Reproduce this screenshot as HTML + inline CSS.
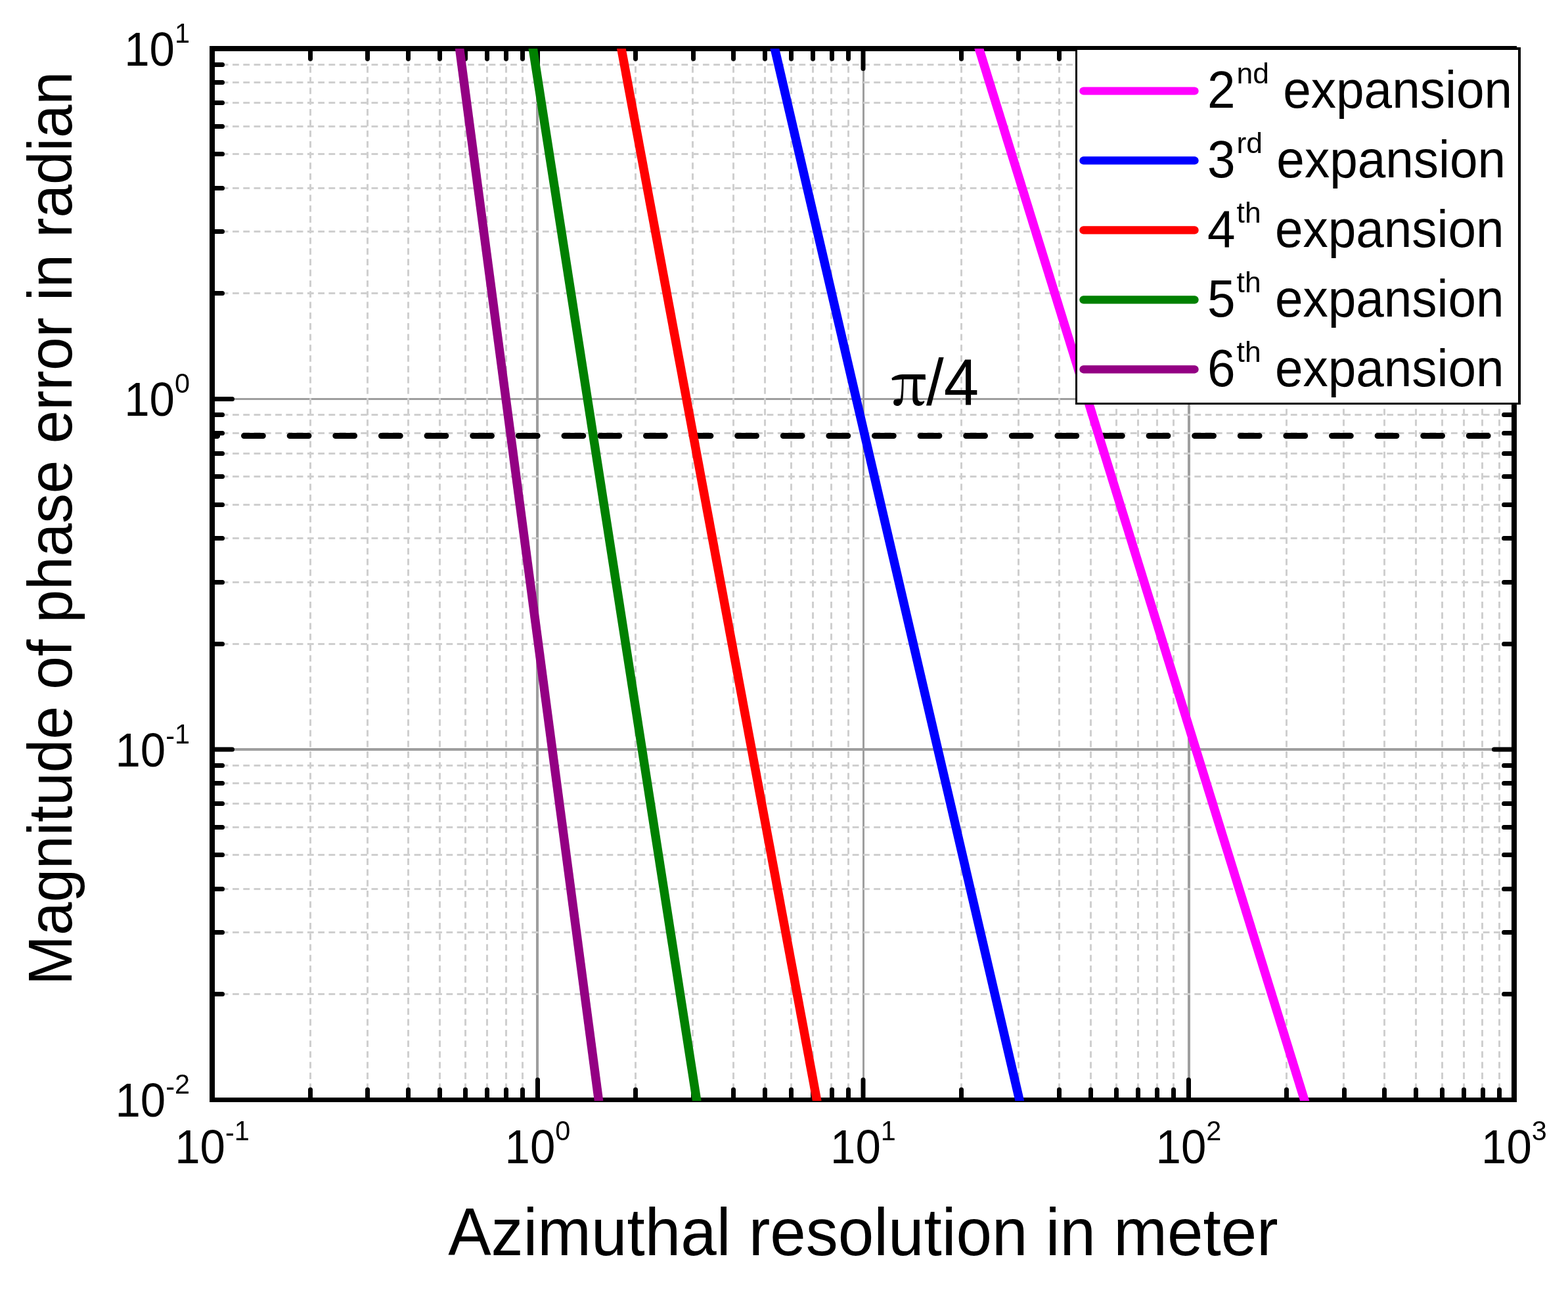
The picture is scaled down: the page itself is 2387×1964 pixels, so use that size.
<!DOCTYPE html><html><head><meta charset="utf-8"><style>html,body{margin:0;padding:0;background:#fff;overflow:hidden;width:2387px;height:1964px;}svg{display:block}</style></head><body>
<svg width="2387" height="1964" viewBox="0 0 2387 1964">
<style>text{font-family:"Liberation Sans",Arial,sans-serif;fill:#000}</style>
<rect width="2387" height="1964" fill="#fff"/>
<defs><clipPath id="pc"><rect x="323" y="74" width="1982" height="1602"/></clipPath></defs>
<rect x="816" y="74" width="4" height="1600.5" fill="#9e9e9e"/>
<rect x="1313" y="74" width="3" height="1600.5" fill="#9e9e9e"/>
<rect x="1808" y="74" width="4" height="1600.5" fill="#9e9e9e"/>
<rect x="323" y="606" width="1982" height="3" fill="#9e9e9e"/>
<rect x="323" y="1139" width="1982" height="4" fill="#9e9e9e"/>
<path d="M472.5 1675.5V74M559.5 1675.5V74M621.5 1675.5V74M669.5 1675.5V74M708.5 1675.5V74M741.5 1675.5V74M770.5 1675.5V74M795.5 1675.5V74M967.5 1675.5V74M1054.5 1675.5V74M1116.5 1675.5V74M1164.5 1675.5V74M1204.5 1675.5V74M1237.5 1675.5V74M1265.5 1675.5V74M1291.5 1675.5V74M1463.5 1675.5V74M1550.5 1675.5V74M1612.5 1675.5V74M1660.5 1675.5V74M1699.5 1675.5V74M1732.5 1675.5V74M1761.5 1675.5V74M1786.5 1675.5V74M1958.5 1675.5V74M2045.5 1675.5V74M2107.5 1675.5V74M2155.5 1675.5V74M2195.5 1675.5V74M2228.5 1675.5V74M2256.5 1675.5V74M2282.5 1675.5V74" stroke="#cfcfcf" stroke-width="3" stroke-dasharray="9.8 6.5" fill="none"/>
<path d="M321.46 1513.5H2305M321.46 1419.5H2305M321.46 1353.5H2305M321.46 1301.5H2305M321.46 1259.5H2305M321.46 1223.5H2305M321.46 1192.5H2305M321.46 1165.5H2305M321.46 980.5H2305M321.46 886.5H2305M321.46 819.5H2305M321.46 768.5H2305M321.46 725.5H2305M321.46 690.5H2305M321.46 659.5H2305M321.46 631.5H2305M321.46 446.5H2305M321.46 352.5H2305M321.46 286.5H2305M321.46 234.5H2305M321.46 192.5H2305M321.46 156.5H2305M321.46 125.5H2305M321.46 98.5H2305" stroke="#cfcfcf" stroke-width="3" stroke-dasharray="9.8 6.471" fill="none"/>
<path d="M472.5 1674.5l0 -15.5M472.5 74l0 15.5M559.5 1674.5l0 -15.5M559.5 74l0 15.5M621.5 1674.5l0 -15.5M621.5 74l0 15.5M669.5 1674.5l0 -15.5M669.5 74l0 15.5M708.5 1674.5l0 -15.5M708.5 74l0 15.5M741.5 1674.5l0 -15.5M741.5 74l0 15.5M770.5 1674.5l0 -15.5M770.5 74l0 15.5M795.5 1674.5l0 -15.5M795.5 74l0 15.5M967.5 1674.5l0 -15.5M967.5 74l0 15.5M1055.5 1674.5l0 -15.5M1055.5 74l0 15.5M1116.5 1674.5l0 -15.5M1116.5 74l0 15.5M1164.5 1674.5l0 -15.5M1164.5 74l0 15.5M1204.5 1674.5l0 -15.5M1204.5 74l0 15.5M1237.5 1674.5l0 -15.5M1237.5 74l0 15.5M1266.5 1674.5l0 -15.5M1266.5 74l0 15.5M1291.5 1674.5l0 -15.5M1291.5 74l0 15.5M1463.5 1674.5l0 -15.5M1463.5 74l0 15.5M1550.5 1674.5l0 -15.5M1550.5 74l0 15.5M1612.5 1674.5l0 -15.5M1612.5 74l0 15.5M1660.5 1674.5l0 -15.5M1660.5 74l0 15.5M1699.5 1674.5l0 -15.5M1699.5 74l0 15.5M1732.5 1674.5l0 -15.5M1732.5 74l0 15.5M1761.5 1674.5l0 -15.5M1761.5 74l0 15.5M1786.5 1674.5l0 -15.5M1786.5 74l0 15.5M1958.5 1674.5l0 -15.5M1958.5 74l0 15.5M2046.5 1674.5l0 -15.5M2046.5 74l0 15.5M2107.5 1674.5l0 -15.5M2107.5 74l0 15.5M2155.5 1674.5l0 -15.5M2155.5 74l0 15.5M2195.5 1674.5l0 -15.5M2195.5 74l0 15.5M2228.5 1674.5l0 -15.5M2228.5 74l0 15.5M2257.5 1674.5l0 -15.5M2257.5 74l0 15.5M2282.5 1674.5l0 -15.5M2282.5 74l0 15.5M818.5 1674.5l0 -30.5M818.5 74l0 30.5M1314 1674.5l0 -30.5M1314 74l0 30.5M1809.5 1674.5l0 -30.5M1809.5 74l0 30.5M323 1513.5l15.5 0M2305 1513.5l-15.5 0M323 1419.5l15.5 0M2305 1419.5l-15.5 0M323 1353.5l15.5 0M2305 1353.5l-15.5 0M323 1301.5l15.5 0M2305 1301.5l-15.5 0M323 1259.5l15.5 0M2305 1259.5l-15.5 0M323 1223.5l15.5 0M2305 1223.5l-15.5 0M323 1192.5l15.5 0M2305 1192.5l-15.5 0M323 1165.5l15.5 0M2305 1165.5l-15.5 0M323 980.5l15.5 0M2305 980.5l-15.5 0M323 886.5l15.5 0M2305 886.5l-15.5 0M323 819.5l15.5 0M2305 819.5l-15.5 0M323 768.5l15.5 0M2305 768.5l-15.5 0M323 725.5l15.5 0M2305 725.5l-15.5 0M323 690.5l15.5 0M2305 690.5l-15.5 0M323 659.5l15.5 0M2305 659.5l-15.5 0M323 631.5l15.5 0M2305 631.5l-15.5 0M323 446.5l15.5 0M2305 446.5l-15.5 0M323 352.5l15.5 0M2305 352.5l-15.5 0M323 286.5l15.5 0M2305 286.5l-15.5 0M323 234.5l15.5 0M2305 234.5l-15.5 0M323 192.5l15.5 0M2305 192.5l-15.5 0M323 156.5l15.5 0M2305 156.5l-15.5 0M323 125.5l15.5 0M2305 125.5l-15.5 0M323 98.5l15.5 0M2305 98.5l-15.5 0M323 607.5l30.5 0M2305 607.5l-30.5 0M323 1141l30.5 0M2305 1141l-30.5 0" stroke="#000" stroke-width="7" stroke-linecap="round" fill="none"/>
<path d="M319 70H2309V78H319ZM319 70H327V1678H319ZM2301 70H2309V1678H2301ZM319 1671H2309V1678H319Z" fill="#000"/>
<path d="M301.86 663.5H330.66M371.5 663.5H400.3M441.14 663.5H469.94M510.78 663.5H539.58M580.42 663.5H609.22M650.06 663.5H678.86M719.7 663.5H748.5M789.34 663.5H818.14M858.98 663.5H887.78M913.9 663.5H942.7M983.5 663.5H1012.3M1053.1 663.5H1081.9M1122.7 663.5H1151.5M1192.3 663.5H1221.1M1261.9 663.5H1290.7M1331.5 663.5H1360.3M1401.1 663.5H1429.9M1470.7 663.5H1499.5M1540.3 663.5H1569.1M1609.9 663.5H1638.7M1679.5 663.5H1708.3M1749.1 663.5H1777.9M1818.7 663.5H1847.5M1888.3 663.5H1917.1M1957.9 663.5H1986.7M2027.5 663.5H2056.3M2097.1 663.5H2125.9M2166.7 663.5H2195.5M2236.3 663.5H2265.1" stroke="#000" stroke-width="9" stroke-linecap="round" clip-path="url(#pc)" fill="none"/>
<g clip-path="url(#pc)" fill="none" stroke-width="13.5">
<path d="M1484.21 54L1991.89 1694.5" stroke="#ff00ff"/>
<path d="M1174.75 54L1556.55 1694.5" stroke="#0000ff"/>
<path d="M942.18 54L1247.12 1694.5" stroke="#ff0000"/>
<path d="M808.19 54L1063.61 1694.5" stroke="#008000"/>
<path d="M696.95 54L913.95 1694.5" stroke="#930083"/>
</g>
<rect x="1637" y="72" width="678" height="544" fill="#000"/><rect x="1640" y="76" width="671" height="537" fill="#fff"/>
<path d="M1649.4 138.5H1818.6" stroke="#ff00ff" stroke-width="12.2" stroke-linecap="round"/>
<text x="1838" y="164" font-size="76.5" transform="translate(0 164) scale(1 1.04) translate(0 -164)">2</text>
<text x="1882.55" y="127" font-size="44.5">nd</text>
<text x="1953.3" y="164" font-size="76.5" transform="translate(0 164) scale(1 1.04) translate(0 -164)">expansion</text>
<path d="M1649.4 244.45H1818.6" stroke="#0000ff" stroke-width="12.2" stroke-linecap="round"/>
<text x="1838" y="269.95" font-size="76.5" transform="translate(0 269.95) scale(1 1.04) translate(0 -269.95)">3</text>
<text x="1882.55" y="232.95" font-size="44.5">rd</text>
<text x="1943.37" y="269.95" font-size="76.5" transform="translate(0 269.95) scale(1 1.04) translate(0 -269.95)">expansion</text>
<path d="M1649.4 350.4H1818.6" stroke="#ff0000" stroke-width="12.2" stroke-linecap="round"/>
<text x="1838" y="375.9" font-size="76.5" transform="translate(0 375.9) scale(1 1.04) translate(0 -375.9)">4</text>
<text x="1882.55" y="338.9" font-size="44.5">th</text>
<text x="1940.91" y="375.9" font-size="76.5" transform="translate(0 375.9) scale(1 1.04) translate(0 -375.9)">expansion</text>
<path d="M1649.4 456.35H1818.6" stroke="#008000" stroke-width="12.2" stroke-linecap="round"/>
<text x="1838" y="481.85" font-size="76.5" transform="translate(0 481.85) scale(1 1.04) translate(0 -481.85)">5</text>
<text x="1882.55" y="444.85" font-size="44.5">th</text>
<text x="1940.91" y="481.85" font-size="76.5" transform="translate(0 481.85) scale(1 1.04) translate(0 -481.85)">expansion</text>
<path d="M1649.4 562.3H1818.6" stroke="#930083" stroke-width="12.2" stroke-linecap="round"/>
<text x="1838" y="587.8" font-size="76.5" transform="translate(0 587.8) scale(1 1.04) translate(0 -587.8)">6</text>
<text x="1882.55" y="550.8" font-size="44.5">th</text>
<text x="1940.91" y="587.8" font-size="76.5" transform="translate(0 587.8) scale(1 1.04) translate(0 -587.8)">expansion</text>

<text x="323" y="1771" font-size="69" text-anchor="middle" transform="translate(0 1771) scale(1 1.04) translate(0 -1771)">10<tspan font-size="41.4" dy="-30.5">-</tspan><tspan font-size="41.4" dy="-3.5">1</tspan></text>
<text x="818.5" y="1771" font-size="69" text-anchor="middle" transform="translate(0 1771) scale(1 1.04) translate(0 -1771)">10<tspan font-size="41.4" dy="-34">0</tspan></text>
<text x="1314" y="1771" font-size="69" text-anchor="middle" transform="translate(0 1771) scale(1 1.04) translate(0 -1771)">10<tspan font-size="41.4" dy="-34">1</tspan></text>
<text x="1809.5" y="1771" font-size="69" text-anchor="middle" transform="translate(0 1771) scale(1 1.04) translate(0 -1771)">10<tspan font-size="41.4" dy="-34">2</tspan></text>
<text x="2305" y="1771" font-size="69" text-anchor="middle" transform="translate(0 1771) scale(1 1.04) translate(0 -1771)">10<tspan font-size="41.4" dy="-34">3</tspan></text>
<text x="289" y="100" font-size="69" text-anchor="end" transform="translate(0 100) scale(1 1.04) translate(0 -100)">10<tspan font-size="41.4" dy="-34">1</tspan></text>
<text x="289" y="633.5" font-size="69" text-anchor="end" transform="translate(0 633.5) scale(1 1.04) translate(0 -633.5)">10<tspan font-size="41.4" dy="-34">0</tspan></text>
<text x="289" y="1167" font-size="69" text-anchor="end" transform="translate(0 1167) scale(1 1.04) translate(0 -1167)">10<tspan font-size="41.4" dy="-30.5">-</tspan><tspan font-size="41.4" dy="-3.5">1</tspan></text>
<text x="289" y="1700.5" font-size="69" text-anchor="end" transform="translate(0 1700.5) scale(1 1.04) translate(0 -1700.5)">10<tspan font-size="41.4" dy="-30.5">-</tspan><tspan font-size="41.4" dy="-3.5">2</tspan></text>
<text x="1314" y="1910.8" font-size="98" text-anchor="middle" transform="translate(0 1910.8) scale(1 1.04) translate(0 -1910.8)">Azimuthal resolution in meter</text>
<text x="0" y="0" font-size="91" text-anchor="middle" transform="translate(108.9 804.4) rotate(-90) scale(1 1.04)">Magnitude of phase error in radian</text>
<text x="0" y="0" font-size="89" style="font-family:&quot;Noto Serif CJK SC&quot;,serif;font-weight:600" transform="translate(1356 616.7) scale(0.93 1)">π</text>
<text x="1410.1" y="616.7" font-size="96" text-anchor="start" transform="translate(0 616.7) scale(1 1.04) translate(0 -616.7)">/4</text>
</svg></body></html>
